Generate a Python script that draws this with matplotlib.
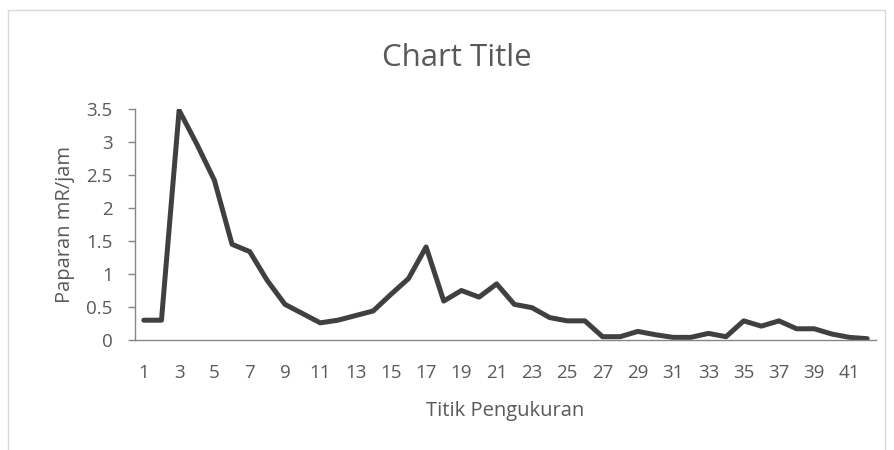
import matplotlib
matplotlib.use("Agg")
import matplotlib.pyplot as plt
from matplotlib.patches import Rectangle

titik = list(range(1, 43))
paparan = [0.30, 0.30, 3.48, 2.97, 2.42, 1.45, 1.34, 0.90, 0.54, 0.40,
           0.26, 0.30, 0.37, 0.44, 0.69, 0.93, 1.41, 0.59, 0.75, 0.65,
           0.85, 0.54, 0.49, 0.34, 0.29, 0.29, 0.05, 0.05, 0.13, 0.08,
           0.04, 0.04, 0.10, 0.05, 0.29, 0.21, 0.29, 0.17, 0.17, 0.09,
           0.04, 0.02]
yticks = [0, 0.5, 1, 1.5, 2, 2.5, 3, 3.5]
ytick_labels = ["0", "0.5", "1", "1.5", "2", "2.5", "3", "3.5"]

plt.rcParams['font.family'] = ['Open Sans', 'DejaVu Sans']
grey = "#595959"

fig = plt.figure(figsize=(8.95, 4.5), dpi=100)
# chart border
fig.patches.append(Rectangle((8/895, -0.1), 877/895, 1.1 - 10/450,
                             transform=fig.transFigure, fill=False,
                             edgecolor="#d9d9d9", lw=1))

ax = fig.add_axes([135/895, 1-340/450, 741/895, (340-109)/450])
ax.plot(titik, paparan, color="#404040", lw=3.6, solid_capstyle="round",
        solid_joinstyle="round")

ax.set_xlim(0.5, 42.5)
ax.set_ylim(0, 3.5)
ax.set_yticks(yticks)
ax.set_yticklabels(ytick_labels)
ax.set_xticks(titik[::2])
ax.tick_params(axis="x", length=0, pad=17, labelsize=13.5, labelcolor=grey)
ax.tick_params(axis="y", length=5, width=1, color="#868686", pad=11,
               labelsize=13.5, labelcolor=grey)

for s in ["top", "right"]:
    ax.spines[s].set_visible(False)
for s in ["left", "bottom"]:
    ax.spines[s].set_color("#868686")
    ax.spines[s].set_linewidth(1)

ax.set_xlabel("Titik Pengukuran", fontsize=14.5, color=grey, labelpad=14)
ax.set_ylabel("Paparan mR/jam", fontsize=14.5, color=grey, labelpad=8)
fig.text(0.510, 1 - 58/450, "Chart Title", ha="center", va="center",
         fontsize=22.5, color=grey)

fig.savefig("out.png", dpi=100)
